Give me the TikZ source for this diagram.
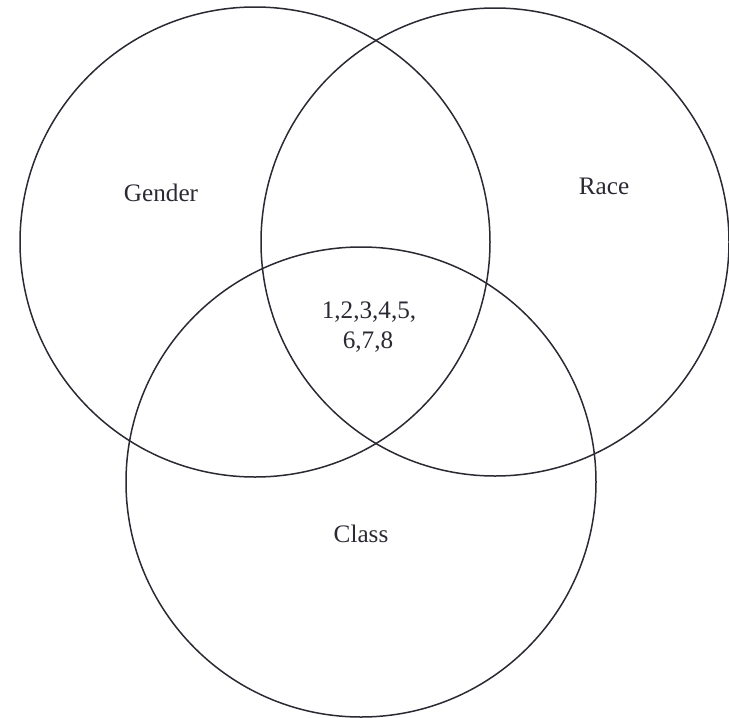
\documentclass[tikz,border=0pt]{standalone}
\usepackage{fontspec}
\setmainfont{Liberation Serif}
\definecolor{ink}{HTML}{2A2A33}
\begin{document}
\begin{tikzpicture}[x=0.5pt,y=-0.5pt,
  ring/.style={draw=ink,line width=0.75pt},
  lbl/.style={anchor=base,inner sep=0pt,text=ink,font=\fontsize{12.6pt}{15pt}\selectfont,align=center}]
\useasboundingbox (0,0) rectangle (729,718);
\draw[ring] (255,242) circle[radius=235];
\draw[ring] (495,242) circle[radius=234];
\draw[ring] (361,482) circle[radius=235];
\node[lbl] (gender) at (161,201) {Gender};
\node[lbl] (race) at (604,194) {Race};
\node[lbl] (class) at (361,542) {Class};
\node[lbl] (nums1) at (369,318) {1,2,3,4,5,};
\node[lbl] (nums2) at (368,348) {6,7,8};
\end{tikzpicture}
\end{document}
